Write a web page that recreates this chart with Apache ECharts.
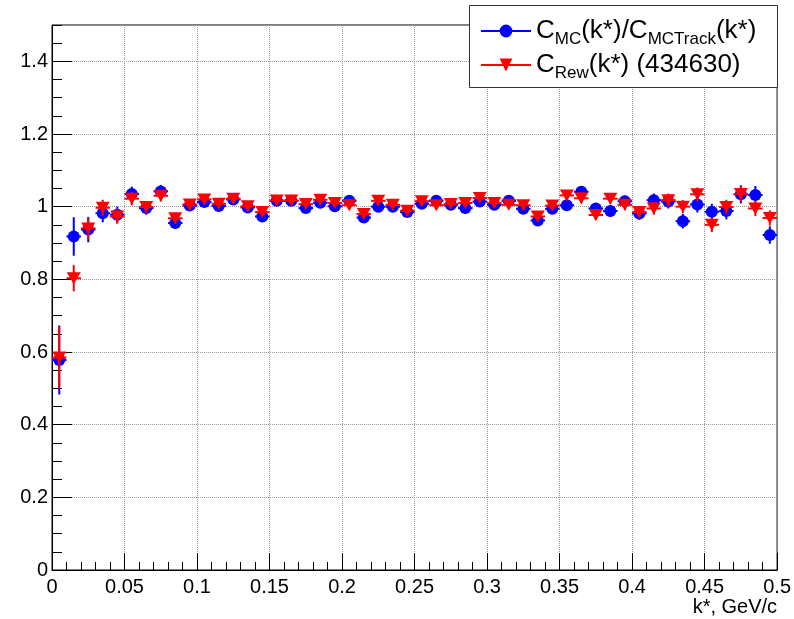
<!DOCTYPE html>
<html>
<head>
<meta charset="utf-8">
<script src="https://cdn.jsdelivr.net/npm/echarts@6/dist/echarts.min.js"></script>
<style>html,body{margin:0;padding:0;background:#fff}#c{width:794px;height:619px}</style>
</head>
<body>
<div id="c"></div>
<script>
const kStar = [0.005,0.015,0.025,0.035,0.045,0.055,0.065,0.075,0.085,0.095,
  0.105,0.115,0.125,0.135,0.145,0.155,0.165,0.175,0.185,0.195,
  0.205,0.215,0.225,0.235,0.245,0.255,0.265,0.275,0.285,0.295,
  0.305,0.315,0.325,0.335,0.345,0.355,0.365,0.375,0.385,0.395,
  0.405,0.415,0.425,0.435,0.445,0.455,0.465,0.475,0.485,0.495];
const binHalfWidth = 0.005;
const mcRatio = [0.578,0.918,0.937,0.982,0.978,1.035,0.996,1.042,0.955,1.003,
  1.013,1.002,1.020,0.998,0.973,1.016,1.016,0.996,1.011,1.001,
  1.016,0.970,1.000,1.000,0.985,1.008,1.016,1.005,0.996,1.014,
  1.005,1.016,0.994,0.962,0.994,1.004,1.041,0.995,0.988,1.015,
  0.981,1.018,1.014,0.960,1.006,0.986,0.988,1.034,1.032,0.922];
const mcErr = [0.095,0.053,0.035,0.025,0.022,0.02,0.018,0.018,0.016,0.015,
  0.014,0.014,0.013,0.013,0.013,0.012,0.012,0.012,0.012,0.012,
  0.012,0.012,0.012,0.012,0.012,0.012,0.012,0.012,0.012,0.012,
  0.013,0.013,0.013,0.013,0.014,0.014,0.015,0.015,0.016,0.016,
  0.017,0.018,0.019,0.02,0.022,0.022,0.023,0.025,0.025,0.024];
const rewRatio = [0.585,0.803,0.940,0.997,0.973,1.022,0.999,1.030,0.968,1.006,
  1.020,1.008,1.022,1.001,0.985,1.017,1.017,1.007,1.019,1.010,
  1.004,0.980,1.016,1.005,0.989,1.015,1.004,1.007,1.010,1.024,
  1.010,1.005,1.004,0.973,1.003,1.031,1.023,0.977,1.022,1.005,
  0.985,0.995,1.018,1.000,1.034,0.950,0.999,1.035,0.995,0.969];
const rewErr = [0.085,0.036,0.03,0.022,0.02,0.018,0.016,0.016,0.015,0.014,
  0.013,0.013,0.012,0.012,0.012,0.011,0.011,0.011,0.011,0.011,
  0.011,0.011,0.011,0.011,0.011,0.011,0.011,0.011,0.011,0.011,
  0.012,0.012,0.012,0.012,0.013,0.013,0.014,0.014,0.015,0.015,
  0.016,0.017,0.018,0.018,0.019,0.02,0.02,0.021,0.021,0.021];
const seriesNames = ['mc', 'rew'];

const FONT = 'Liberation Sans';
const BLUE = '#0000ff', RED = '#ff0000';

function errSeries(vals, errs, color, z) {
  return {
    type: 'custom', silent: true, z: z, animation: false,
    data: kStar.map((k, i) => [k, vals[i], errs[i]]),
    encode: {x: 0, y: 1},
    renderItem: function (params, api) {
      const x = api.value(0), y = api.value(1), e = api.value(2);
      const t = api.coord([x, y + e]), b = api.coord([x, y - e]);
      const l = api.coord([x - binHalfWidth, y]), r = api.coord([x + binHalfWidth, y]);
      return {type: 'group', children: [
        {type: 'line', shape: {x1: t[0], y1: t[1], x2: b[0], y2: b[1]}, style: {stroke: color, lineWidth: 2}},
        {type: 'line', shape: {x1: l[0], y1: l[1], x2: r[0], y2: r[1]}, style: {stroke: color, lineWidth: 2}}
      ]};
    }
  };
}

const chart = echarts.init(document.getElementById('c'), null, {renderer: 'canvas'});
chart.setOption({
  animation: false,
  backgroundColor: '#fff',
  grid: {left: 52, right: 15, top: 25, bottom: 49, show: true, borderColor: '#000', borderWidth: 1, backgroundColor: 'transparent'},
  xAxis: {
    type: 'value', min: 0, max: 0.5, interval: 0.05,
    axisLine: {show: true, onZero: false, lineStyle: {color: '#000', width: 1}},
    axisTick: {show: true, inside: true, length: 17, lineStyle: {color: '#000'}},
    minorTick: {show: true, splitNumber: 5, length: 8, lineStyle: {color: '#000'}},
    splitLine: {show: true, lineStyle: {color: '#999', type: 'dotted', width: 1}},
    axisLabel: {color: '#000', fontSize: 20, fontFamily: FONT, margin: 7,
      formatter: v => String(Math.round(v * 100) / 100)},
    name: 'k*, GeV/c', nameLocation: 'end', nameGap: 0,
    nameTextStyle: {color: '#000', fontSize: 20, fontFamily: FONT, align: 'right', verticalAlign: 'top', padding: [27, 0, 0, 0]}
  },
  yAxis: [{
    type: 'value', min: 0, max: 1.5, interval: 0.2,
    axisLine: {show: true, onZero: false, lineStyle: {color: '#000', width: 1}},
    axisTick: {show: true, inside: true, length: 20, lineStyle: {color: '#000'}},
    splitLine: {show: true, lineStyle: {color: '#999', type: 'dotted', width: 1}},
    axisLabel: {color: '#000', fontSize: 20, fontFamily: FONT, margin: 4, showMaxLabel: false,
      formatter: v => String(Math.round(v * 10) / 10)}
  }, {
    type: 'value', min: 0, max: 1.5, interval: 0.05, position: 'left',
    axisLine: {show: false},
    axisTick: {show: true, inside: true, length: 10, lineStyle: {color: '#000'}},
    splitLine: {show: false},
    axisLabel: {show: false}
  }],
  legend: {
    show: true, orient: 'vertical', left: 480, top: 18, padding: 0, itemGap: 4, z: 6,
    data: seriesNames, itemWidth: 50, itemHeight: 16,
    lineStyle: {width: 2, opacity: 1},
    selectedMode: false,
    formatter: function (name) {
      return name === 'mc'
        ? '{n|C}{s|MC}{n|(k*)/C}{s|MCTrack}{n|(k*)}'
        : '{n|C}{s|Rew}{n|(k*) (434630)}';
    },
    textStyle: {
      color: '#000', fontFamily: FONT, fontSize: 26,
      rich: {
        n: {fontSize: 26, fontFamily: FONT, color: '#000', lineHeight: 34},
        s: {fontSize: 17, fontFamily: FONT, color: '#000', verticalAlign: 'bottom', lineHeight: 30}
      }
    }
  },
  graphic: [{
    type: 'rect', z: 5, silent: true,
    shape: {x: 469.5, y: 5.5, width: 308, height: 82},
    style: {fill: '#fff', stroke: '#333', lineWidth: 1}
  }],
  series: [
    errSeries(mcRatio, mcErr, BLUE, 2),
    {
      name: 'mc', type: 'line', z: 3, silent: true,
      data: kStar.map((k, i) => [k, mcRatio[i]]),
      symbol: 'circle', symbolSize: 12, showAllSymbol: true,
      itemStyle: {color: BLUE}, lineStyle: {color: BLUE, width: 2, opacity: 0}
    },
    errSeries(rewRatio, rewErr, RED, 4),
    {
      name: 'rew', type: 'line', z: 5, silent: true,
      data: kStar.map((k, i) => [k, rewRatio[i]]),
      symbol: 'triangle', symbolRotate: 180, symbolSize: [14, 12], showAllSymbol: true,
      itemStyle: {color: RED}, lineStyle: {color: RED, width: 2, opacity: 0}
    }
  ]
});
</script>
</body>
</html>
